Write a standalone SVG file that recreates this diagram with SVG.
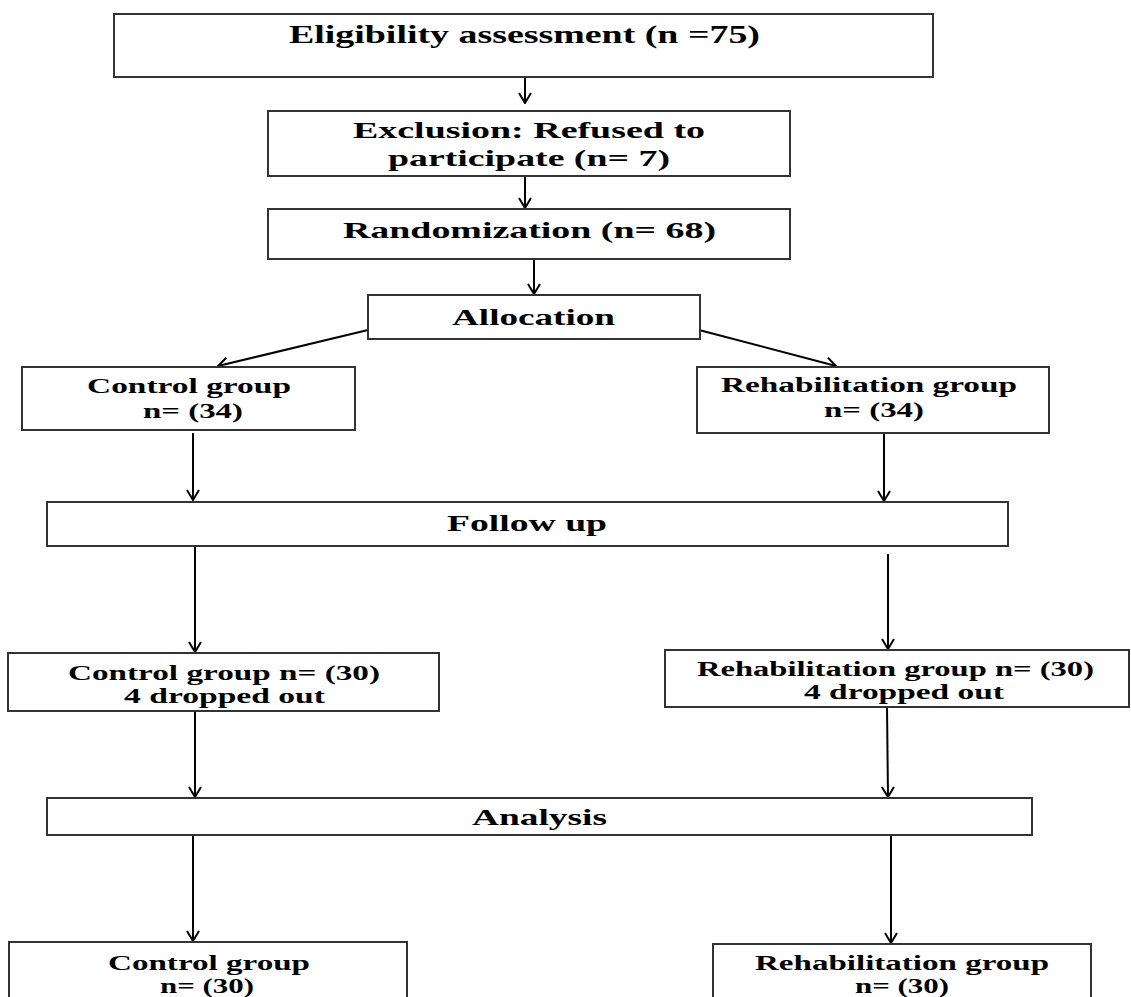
<svg xmlns="http://www.w3.org/2000/svg" width="1131" height="997" viewBox="0 0 1131 997">
<style>
.box{fill:#fff;stroke:#333;stroke-width:2}
.t{font-family:"Liberation Serif","Times New Roman",serif;font-weight:bold;font-size:24px;fill:#000}
.big{font-size:26px}
.sm{font-size:20px}
.c{stroke:#000;stroke-width:2;fill:none;marker-end:url(#ah)}
</style>
<defs>
<marker id="ah" viewBox="0 0 12 14" refX="11" refY="7" markerWidth="12" markerHeight="14" markerUnits="userSpaceOnUse" orient="auto">
<path d="M1,1 L11,7 L1,13" fill="none" stroke="#000" stroke-width="2"/>
</marker>
</defs>
<rect width="1131" height="997" fill="#fff"/>
<g id="connectors">
<line class="c" x1="525" y1="77" x2="525" y2="103"/>
<line class="c" x1="525" y1="176" x2="525" y2="208"/>
<line class="c" x1="534" y1="259" x2="534" y2="294"/>
<line class="c" x1="368" y1="330" x2="218" y2="366"/>
<line class="c" x1="699" y1="330" x2="836" y2="366"/>
<line class="c" x1="193" y1="433" x2="193" y2="500"/>
<line class="c" x1="884" y1="433" x2="884" y2="501"/>
<line class="c" x1="195" y1="546" x2="195" y2="652"/>
<line class="c" x1="888" y1="554" x2="888" y2="649"/>
<line class="c" x1="195" y1="711" x2="195" y2="797"/>
<line class="c" x1="887" y1="707" x2="888" y2="797"/>
<line class="c" x1="193" y1="835" x2="193" y2="941"/>
<line class="c" x1="891" y1="835" x2="891" y2="943"/>
</g>
<g id="eligibility">
<rect class="box" x="114" y="14" width="819" height="63"/>
<text class="t big" x="289" y="43" textLength="471" lengthAdjust="spacingAndGlyphs">Eligibility assessment (n =75)</text>
</g>
<g id="exclusion">
<rect class="box" x="268" y="111" width="522" height="65"/>
<text class="t" x="353" y="138" textLength="352" lengthAdjust="spacingAndGlyphs">Exclusion: Refused to</text>
<text class="t" x="388" y="166" textLength="282" lengthAdjust="spacingAndGlyphs">participate (n= 7)</text>
</g>
<g id="randomization">
<rect class="box" x="268" y="209" width="522" height="50"/>
<text class="t" x="343" y="238" textLength="373" lengthAdjust="spacingAndGlyphs">Randomization (n= 68)</text>
</g>
<g id="allocation">
<rect class="box" x="368" y="295" width="332" height="44"/>
<text class="t" x="452" y="325" textLength="163" lengthAdjust="spacingAndGlyphs">Allocation</text>
</g>
<g id="control34">
<rect class="box" x="22" y="367" width="333" height="63"/>
<text class="t sm" x="87" y="393" textLength="204" lengthAdjust="spacingAndGlyphs">Control group</text>
<text class="t sm" x="143" y="418" textLength="100" lengthAdjust="spacingAndGlyphs">n= (34)</text>
</g>
<g id="rehab34">
<rect class="box" x="697" y="367" width="352" height="66"/>
<text class="t sm" x="721" y="392" textLength="296" lengthAdjust="spacingAndGlyphs">Rehabilitation group</text>
<text class="t sm" x="824" y="417" textLength="100" lengthAdjust="spacingAndGlyphs">n= (34)</text>
</g>
<g id="followup">
<rect class="box" x="47" y="502" width="961" height="44"/>
<text class="t" x="447" y="531" textLength="160" lengthAdjust="spacingAndGlyphs">Follow up</text>
</g>
<g id="control30">
<rect class="box" x="8" y="653" width="431" height="58"/>
<text class="t sm" x="68" y="680" textLength="312" lengthAdjust="spacingAndGlyphs">Control group n= (30)</text>
<text class="t sm" x="124" y="703" textLength="201" lengthAdjust="spacingAndGlyphs">4 dropped out</text>
</g>
<g id="rehab30">
<rect class="box" x="665" y="650" width="464" height="57"/>
<text class="t sm" x="697" y="676" textLength="397" lengthAdjust="spacingAndGlyphs">Rehabilitation group n= (30)</text>
<text class="t sm" x="804" y="699" textLength="200" lengthAdjust="spacingAndGlyphs">4 dropped out</text>
</g>
<g id="analysis">
<rect class="box" x="47" y="798" width="985" height="37"/>
<text class="t" x="472" y="825" textLength="135" lengthAdjust="spacingAndGlyphs">Analysis</text>
</g>
<g id="control-final">
<rect class="box" x="9" y="942" width="398" height="100"/>
<text class="t sm" x="108" y="970" textLength="202" lengthAdjust="spacingAndGlyphs">Control group</text>
<text class="t sm" x="160" y="993" textLength="94" lengthAdjust="spacingAndGlyphs">n= (30)</text>
</g>
<g id="rehab-final">
<rect class="box" x="713" y="944" width="378" height="100"/>
<text class="t sm" x="755" y="970" textLength="294" lengthAdjust="spacingAndGlyphs">Rehabilitation group</text>
<text class="t sm" x="855" y="993" textLength="94" lengthAdjust="spacingAndGlyphs">n= (30)</text>
</g>
</svg>
